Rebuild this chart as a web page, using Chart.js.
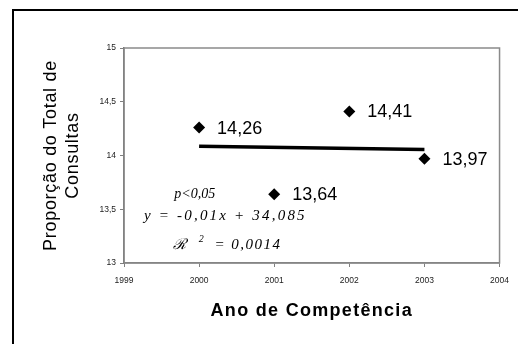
<!DOCTYPE html>
<html>
<head>
<meta charset="utf-8">
<script src="https://cdn.jsdelivr.net/npm/chart.js@4.4.1/dist/chart.umd.min.js"></script>
<style>
  html, body { margin: 0; padding: 0; background: #fff; }
  #wrap { width: 518px; height: 344px; }
</style>
</head>
<body>
<div id="wrap"><canvas id="chart" width="518" height="344"></canvas></div>
<script>
// Share of total consultations per year of competence
const years = [2000, 2001, 2002, 2003];
const shares = [14.26, 13.64, 14.41, 13.97];

// Linear trend drawn across the observed years
const trendYears = [2000, 2003];
const trendValues = [14.085, 14.055];

// Axis ranges and steps
const xRange = [1999, 2004];
const yRange = [13, 15];
const yStep = 0.5;

// Regression notes
const fitSignificance = 'p<0,05';
const fitEquation = 'y = -0,01x + 34,085';
const fitR2Symbol = 'ℛ';
const fitR2Value = ' = 0,0014';

const decimalComma = v => String(v).replace('.', ',');

// White page with the black frame around the figure
const pageFrame = {
  id: 'pageFrame',
  beforeDraw(chart) {
    const ctx = chart.ctx;
    ctx.save();
    ctx.fillStyle = '#fff';
    ctx.fillRect(0, 0, chart.width, chart.height);
    ctx.strokeStyle = '#000';
    ctx.lineWidth = 2;
    ctx.strokeRect(13, 10, chart.width + 20, chart.height + 40);
    ctx.restore();
  }
};

// Grey box around the plotting area
const plotFrame = {
  id: 'plotFrame',
  beforeDatasetsDraw(chart) {
    const { ctx, chartArea: a } = chart;
    ctx.save();
    ctx.strokeStyle = '#8a8a8a';
    ctx.lineWidth = 1.5;
    ctx.strokeRect(a.left, a.top, a.right - a.left, a.bottom - a.top);
    ctx.restore();
  }
};

// Letter-spaced axis titles
const spacedTitles = {
  id: 'spacedTitles',
  beforeDraw(chart, args, opts) {
    Object.values(chart.scales).forEach(scale => {
      const spacing = opts[scale.id];
      if (!spacing || scale._spacedTitle) return;
      const base = scale.drawTitle;
      scale.drawTitle = function () {
        this.ctx.save();
        this.ctx.letterSpacing = spacing;
        base.call(this);
        this.ctx.restore();
      };
      scale._spacedTitle = true;
    });
  }
};

// Value labels to the right of each marker
const valueLabels = {
  id: 'valueLabels',
  afterDatasetsDraw(chart) {
    const ctx = chart.ctx;
    const meta = chart.getDatasetMeta(0);
    ctx.save();
    ctx.font = '18px "Liberation Sans", Arial, sans-serif';
    ctx.fillStyle = '#000';
    ctx.textAlign = 'left';
    ctx.textBaseline = 'middle';
    meta.data.forEach((el, i) => {
      ctx.fillText(decimalComma(shares[i]), el.x + 18, el.y + 1);
    });
    ctx.restore();
  }
};

// Regression notes placed in data units
const fitNotes = {
  id: 'fitNotes',
  afterDatasetsDraw(chart) {
    const { ctx, scales: { x, y } } = chart;
    const serif = '"Liberation Serif", "Times New Roman", serif';
    ctx.save();
    ctx.fillStyle = '#000';
    ctx.textBaseline = 'alphabetic';

    ctx.textAlign = 'center';
    ctx.font = 'italic 14px ' + serif;
    ctx.fillText(fitSignificance, x.getPixelForValue(1999.942), y.getPixelForValue(13.605));

    ctx.font = 'italic 15px ' + serif;
    ctx.letterSpacing = '2.2px';
    ctx.fillText(fitEquation, x.getPixelForValue(2000.35), y.getPixelForValue(13.40));

    // R² line built from symbol, superscript and value
    ctx.letterSpacing = '1.5px';
    ctx.textAlign = 'left';
    const bx = x.getPixelForValue(2000.35);
    const by = y.getPixelForValue(13.13);
    ctx.font = 'italic 15px ' + serif;
    const wSym = ctx.measureText(fitR2Symbol).width;
    const gap = 11;
    ctx.font = 'italic 10px ' + serif;
    const wSup = ctx.measureText('2').width;
    ctx.font = 'italic 15px ' + serif;
    const wVal = ctx.measureText(fitR2Value).width;
    let cx = bx - (wSym + gap + wSup + wVal) / 2;
    ctx.fillText(fitR2Symbol, cx, by);
    cx += wSym + gap;
    ctx.font = 'italic 10px ' + serif;
    ctx.fillText('2', cx, by - 7);
    cx += wSup + 4;
    ctx.font = 'italic 15px ' + serif;
    ctx.fillText(fitR2Value, cx, by);
    ctx.restore();
  }
};

const tickFont = { family: '"Liberation Sans", Arial, sans-serif', size: 8.5 };

new Chart(document.getElementById('chart'), {
  type: 'scatter',
  data: {
    datasets: [
      {
        label: 'Proporção',
        data: years.map((yr, i) => ({ x: yr, y: shares[i] })),
        pointStyle: 'rectRot',
        pointRadius: 6,
        pointHoverRadius: 6,
        pointBorderWidth: 0,
        backgroundColor: '#000',
        borderColor: '#000',
        showLine: false
      },
      {
        label: 'Tendência',
        data: trendYears.map((yr, i) => ({ x: yr, y: trendValues[i] })),
        showLine: true,
        borderColor: '#000',
        borderWidth: 3.5,
        borderCapStyle: 'butt',
        pointRadius: 0,
        fill: false
      }
    ]
  },
  options: {
    responsive: false,
    animation: false,
    devicePixelRatio: 1,
    layout: { padding: { left: 28, right: 17, top: 48, bottom: 0 } },
    plugins: {
      legend: { display: false },
      tooltip: { enabled: false },
      spacedTitles: { x: '1.3px', y: '0.7px' }
    },
    scales: {
      x: {
        type: 'linear',
        position: 'bottom',
        min: xRange[0],
        max: xRange[1],
        ticks: {
          stepSize: 1,
          callback: v => String(v),
          font: tickFont,
          color: '#222',
          padding: 9,
          maxRotation: 0,
          autoSkip: false
        },
        grid: { drawOnChartArea: false, drawTicks: true, tickLength: 4, color: '#808080', lineWidth: 1 },
        border: { display: true, color: '#7a7a7a', width: 1.5 },
        title: {
          display: true,
          text: 'Ano de Competência',
          color: '#000',
          font: { family: '"Liberation Sans", Arial, sans-serif', size: 18, weight: 'bold', lineHeight: 1.2 },
          padding: { top: 0, bottom: 22 }
        },
        afterFit: s => { s.height = 81; }
      },
      y: {
        min: yRange[0],
        max: yRange[1],
        ticks: {
          stepSize: yStep,
          callback: v => decimalComma(v),
          font: tickFont,
          color: '#222',
          padding: 4
        },
        grid: { drawOnChartArea: false, drawTicks: true, tickLength: 4, color: '#808080', lineWidth: 1 },
        border: { display: true, color: '#6a6a6a', width: 1.5 },
        title: {
          display: true,
          text: ['Proporção do Total de', 'Consultas'],
          color: '#000',
          font: { family: '"Liberation Sans", Arial, sans-serif', size: 18, lineHeight: 1.22 },
          padding: { top: 12, bottom: 0 }
        },
        afterFit: s => { s.width = 96; }
      }
    }
  },
  plugins: [pageFrame, plotFrame, spacedTitles, valueLabels, fitNotes]
});
</script>
</body>
</html>
